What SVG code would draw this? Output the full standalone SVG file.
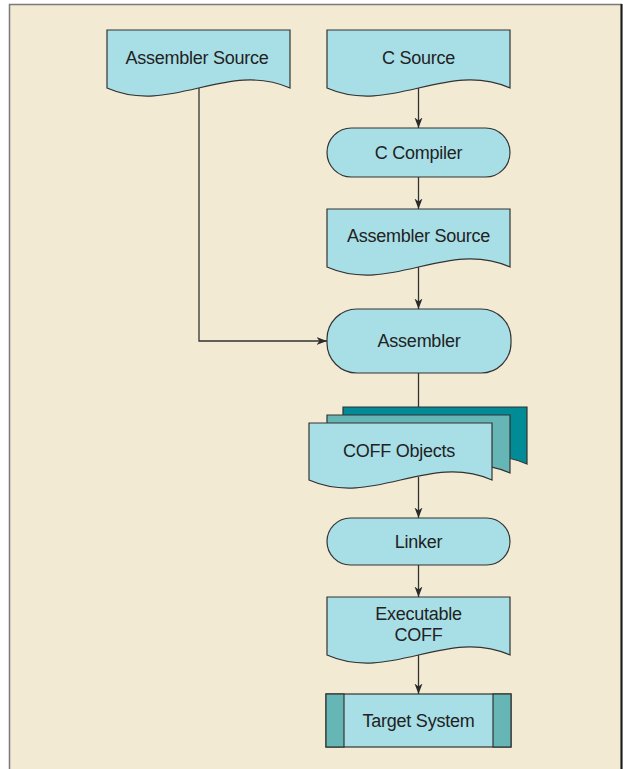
<svg xmlns="http://www.w3.org/2000/svg" width="623" height="769" viewBox="0 0 623 769">
<defs>
<marker id="arr" markerWidth="11" markerHeight="9" refX="10.5" refY="4.5" orient="auto" markerUnits="userSpaceOnUse">
<path d="M0,0.5 L10.5,4.5 L0,8.5 L3,4.5 Z" fill="#2a2a2a"/>
</marker>
<style>
.doc{fill:#a8dfe7;stroke:#333;stroke-width:1.2}
.term{fill:#a8dfe7;stroke:#333;stroke-width:1.2}
.mid{fill:#66b6b6;stroke:#333;stroke-width:1.2}
.back{fill:#008b96;stroke:#333;stroke-width:1.2}
.lbl{font-family:"Liberation Sans",Arial,sans-serif;font-size:18px;letter-spacing:-0.25px;fill:#222;text-anchor:middle}
.con{fill:none;stroke:#333;stroke-width:1.3}
</style>
</defs>
<rect x="9.5" y="4.5" width="612" height="775" fill="#f3ead3" stroke="#7a7a7a" stroke-width="1.5"/>
<line x1="621.5" y1="4" x2="621.5" y2="769" stroke="#1a1a1a" stroke-width="2"/>

<g id="asm-source-left">
<path class="doc" d="M107,30 H290 V88 C226,60 171,116 107,88 Z"/>
<text class="lbl" x="197" y="63.5">Assembler Source</text>
</g>
<g id="c-source">
<path class="doc" d="M327,30 H510 V88 C446,60 391,116 327,88 Z"/>
<text class="lbl" x="418.5" y="63.5">C Source</text>
</g>
<g id="c-compiler">
<rect class="term" x="327" y="128" width="183" height="49" rx="24.5" ry="24.5"/>
<text class="lbl" x="418.5" y="158.5">C Compiler</text>
</g>
<g id="asm-source-2">
<path class="doc" d="M327,209 H510 V267 C446,239 391,295 327,267 Z"/>
<text class="lbl" x="418.5" y="242">Assembler Source</text>
</g>
<g id="assembler">
<rect class="term" x="327" y="309" width="184" height="64" rx="30" ry="30"/>
<text class="lbl" x="419" y="347">Assembler</text>
</g>
<g id="coff-objects">
<path class="back" d="M343,407 H527 V464 C463,436 407,492 343,464 Z"/>
<path class="mid" d="M327,415 H510 V473 C446,445 391,501 327,473 Z"/>
<path class="doc" d="M309,423 H492 V480 C428,452 373,508 309,480 Z"/>
<text class="lbl" x="399" y="456.5">COFF Objects</text>
</g>
<g id="linker">
<rect class="term" x="327" y="518" width="183" height="47" rx="23.5" ry="23.5"/>
<text class="lbl" x="418.5" y="548">Linker</text>
</g>
<g id="exec-coff">
<path class="doc" d="M327,597 H510 V655 C446,627 391,683 327,655 Z"/>
<text class="lbl" x="418.5" y="619.5">Executable</text>
<text class="lbl" x="418.5" y="640.5">COFF</text>
</g>
<g id="target-system">
<rect x="326" y="694" width="185" height="53" fill="#a8dfe7" stroke="#333" stroke-width="1.2"/>
<rect x="326" y="694" width="18" height="53" fill="#66b6b6" stroke="#333" stroke-width="1.2"/>
<rect x="493" y="694" width="18" height="53" fill="#66b6b6" stroke="#333" stroke-width="1.2"/>
<text class="lbl" x="418.5" y="727">Target System</text>
</g>

<g id="connectors">
<path class="con" d="M199,88 V341 H327" marker-end="url(#arr)" stroke="#555"/>
<path class="con" d="M418.5,88 V128" marker-end="url(#arr)"/>
<path class="con" d="M418.5,177 V209" marker-end="url(#arr)"/>
<path class="con" d="M418.5,267 V309" marker-end="url(#arr)"/>
<path class="con" d="M418.5,373 V407"/>
<path class="con" d="M418.5,477 V518" marker-end="url(#arr)"/>
<path class="con" d="M418.5,565 V597" marker-end="url(#arr)"/>
<path class="con" d="M418.5,655 V694" marker-end="url(#arr)"/>
</g>
</svg>
